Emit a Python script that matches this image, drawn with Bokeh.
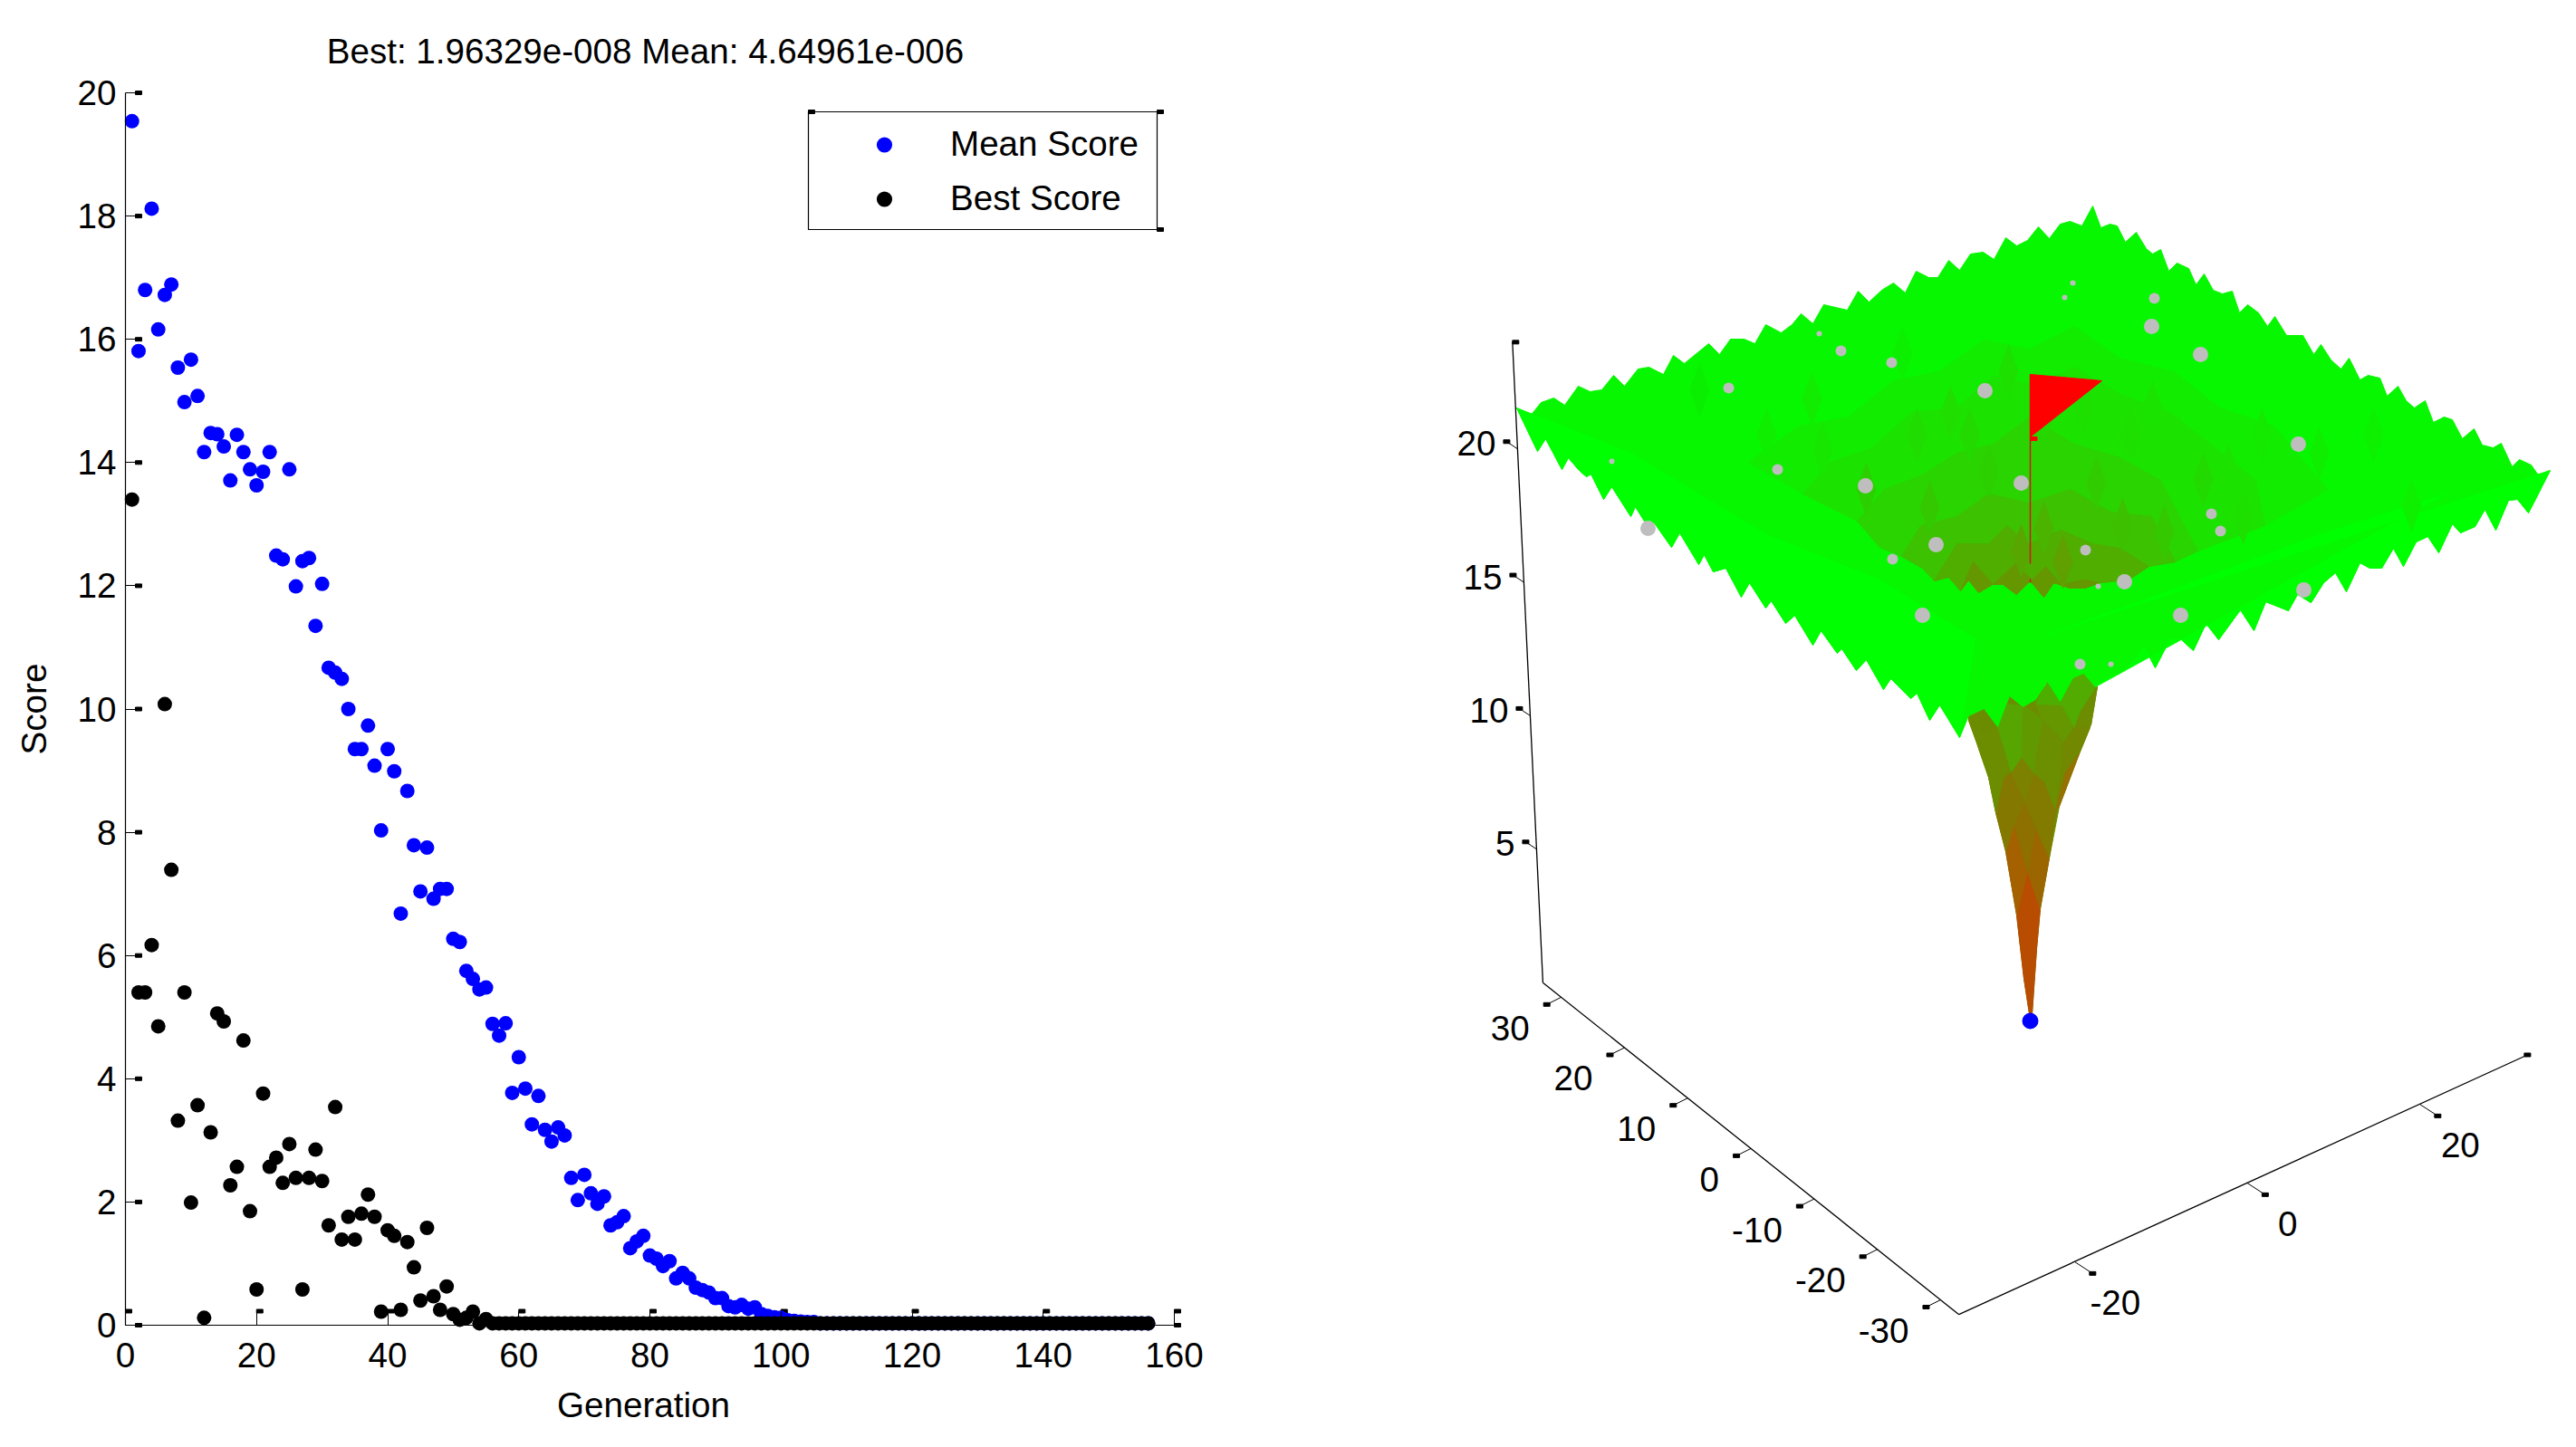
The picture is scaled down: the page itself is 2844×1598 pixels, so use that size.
from bokeh.core.properties import value
from bokeh.embed import file_html
from bokeh.layouts import row
from bokeh.models import FixedTicker, Label, Legend, LegendItem, Range1d
from bokeh.plotting import figure
from bokeh.resources import INLINE

FONT = "Liberation Sans"
FONT_SIZE = "38.6px"

# left chart values
mean_score = [
    19.54, 15.81, 16.80, 18.12, 16.16, 16.72, 16.89, 15.54, 14.98, 15.67,
    15.08, 14.17, 14.48, 14.46, 14.26, 13.71, 14.45, 14.17, 13.89, 13.63,
    13.85, 14.17, 12.49, 12.43, 13.89, 11.99, 12.40, 12.45, 11.35, 12.03,
    10.67, 10.59, 10.49, 10.00, 9.35, 9.35, 9.73, 9.08, 8.03, 9.35,
    8.99, 6.68, 8.67, 7.79, 7.04, 7.75, 6.92, 7.08, 7.08, 6.27,
    6.22, 5.75, 5.62, 5.45, 5.48, 4.89, 4.70, 4.90, 3.77, 4.35,
    3.84, 3.26, 3.72, 3.17, 2.98, 3.21, 3.08, 2.39, 2.03, 2.44,
    2.14, 1.97, 2.09, 1.62, 1.67, 1.77, 1.25, 1.36, 1.45, 1.13,
    1.08, 0.96, 1.04, 0.76, 0.85, 0.76, 0.61, 0.57, 0.53, 0.44,
    0.44, 0.31, 0.29, 0.33, 0.27, 0.29, 0.18, 0.15, 0.13, 0.12,
    0.08, 0.07, 0.06, 0.05, 0.05,
] + [0.03] * 51
best_score = [
    13.40, 5.40, 5.40, 6.17, 4.85, 10.08, 7.39, 3.32, 5.40, 1.99,
    3.57, 0.12, 3.13, 5.06, 4.93, 2.27, 2.57, 4.62, 1.85, 0.58,
    3.76, 2.57, 2.72, 2.31, 2.94, 2.39, 0.58, 2.39, 2.85, 2.34,
    1.62, 3.54, 1.39, 1.76, 1.39, 1.81, 2.12, 1.76, 0.22, 1.54,
    1.45, 0.25, 1.35, 0.94, 0.40, 1.58, 0.47, 0.25, 0.63, 0.18,
    0.09, 0.12, 0.22, 0.03, 0.10,
] + [0.03] * 101
generation = list(range(1, len(mean_score) + 1))
gen_ticks = [0, 20, 40, 60, 80, 100, 120, 140, 160]
score_ticks = [0, 2, 4, 6, 8, 10, 12, 14, 16, 18, 20]
title_text = "Best: 1.96329e-008 Mean: 4.64961e-006"

# right panel, everything in page pixels
surface_upper = [
    (1674, 450), (1688, 460), (1701, 444), (1715, 439), (1727, 447), (1742, 426), (1755, 432), (1768, 430),
    (1781, 414), (1793, 426), (1808, 407), (1820, 405), (1836, 413), (1847, 392), (1859, 401), (1886, 379),
    (1898, 391), (1910, 374), (1925, 374), (1937, 379), (1949, 358), (1966, 367), (1978, 358), (1988, 346),
    (2001, 357), (2013, 336), (2039, 342), (2051, 321), (2063, 333), (2077, 320), (2090, 312), (2103, 323),
    (2115, 299), (2129, 306), (2139, 306), (2151, 287), (2163, 298), (2175, 280), (2189, 278), (2201, 286),
    (2214, 262), (2226, 271), (2238, 265), (2250, 250), (2262, 263), (2274, 247), (2285, 244), (2298, 249),
    (2310, 227), (2319, 251), (2329, 247), (2337, 249), (2346, 267), (2358, 256), (2369, 274), (2376, 280),
    (2385, 275), (2394, 299), (2403, 290), (2416, 296), (2424, 314), (2433, 302), (2443, 320), (2453, 324),
    (2464, 321), (2472, 345), (2481, 336), (2493, 345), (2503, 360), (2511, 349), (2524, 370), (2542, 370),
    (2554, 391), (2562, 380), (2573, 397), (2584, 407), (2593, 395), (2605, 419), (2614, 414), (2627, 417),
    (2635, 437), (2647, 426), (2656, 442), (2665, 450), (2677, 442), (2686, 466), (2698, 460), (2707, 463),
    (2718, 484), (2731, 473), (2740, 491), (2752, 494), (2761, 489), (2773, 515), (2781, 507), (2794, 513),
    (2806, 530), (2815, 519),
]
surface_lower_right = [
    (2815, 519), (2791, 566), (2779, 551), (2769, 552), (2755, 585), (2743, 562), (2732, 581), (2716, 588),
    (2707, 578), (2692, 610), (2680, 592), (2667, 598), (2653, 625), (2642, 605), (2629, 627), (2616, 627),
    (2605, 621), (2590, 653), (2578, 632), (2565, 643), (2551, 665), (2536, 656), (2526, 674), (2501, 664),
    (2488, 696), (2473, 673), (2449, 706), (2435, 688), (2421, 718), (2408, 706), (2395, 706), (2379, 737),
    (2367, 714), (2356, 730), (2340, 743), (2327, 747), (2313, 758),
]
surface_lower_mid = [
    (2300, 743), (2288, 748), (2274, 774), (2260, 752), (2247, 772), (2233, 780), (2218, 768), (2205, 802),
    (2190, 782), (2173, 790),
]
surface_lower_left = [
    (2163, 814), (2141, 778), (2130, 795), (2116, 765), (2109, 771), (2087, 749), (2079, 761), (2060, 728),
    (2049, 740), (2033, 716), (2028, 721), (2010, 696), (2001, 712), (1981, 679), (1971, 688), (1955, 663),
    (1949, 671), (1931, 643), (1922, 659), (1905, 627), (1891, 631), (1881, 612), (1875, 623), (1854, 588),
    (1845, 604), (1826, 577), (1815, 575), (1805, 559), (1800, 570), (1779, 537), (1770, 551), (1756, 523),
    (1751, 526), (1743, 519), (1731, 505), (1724, 518), (1706, 484), (1697, 498), (1674, 450),
]
left_strip_inner = [(1674, 450), (1800, 500), (1950, 590), (2075, 640), (2180, 705)]
right_strip_inner = [(2260, 700), (2400, 650), (2560, 590), (2700, 545)]

rim_top = [
    (1930, 510), (1990, 545), (2050, 575), (2075, 604), (2099, 614), (2122, 627), (2135, 641), (2151, 637),
    (2164, 652), (2173, 640), (2184, 654), (2199, 645), (2211, 645), (2226, 656), (2241, 641), (2256, 659),
    (2267, 643), (2285, 649), (2301, 649), (2318, 643), (2337, 641), (2354, 637), (2372, 625), (2401, 620),
    (2426, 608), (2500, 580), (2570, 540),
]
bowl_arcs = [
    [(1930, 510), (1985, 470), (2040, 460), (2090, 420), (2140, 410), (2190, 375), (2240, 385), (2290, 360),
     (2340, 395), (2400, 410), (2450, 450), (2510, 470), (2570, 540)],
    [(1990, 545), (2020, 510), (2065, 495), (2110, 455), (2160, 450), (2200, 415), (2245, 425), (2290, 405),
     (2340, 435), (2395, 455), (2440, 490), (2490, 530), (2500, 580)],
    [(2050, 575), (2080, 540), (2120, 525), (2160, 500), (2200, 490), (2240, 460), (2290, 490), (2340, 505),
     (2385, 530), (2426, 608)],
    [(2099, 614), (2120, 580), (2160, 570), (2195, 545), (2240, 555), (2285, 540), (2330, 565), (2375, 570),
     (2401, 620)],
    [(2135, 641), (2160, 600), (2195, 600), (2215, 580), (2240, 600), (2275, 585), (2310, 600), (2340, 605),
     (2372, 625)],
    [(2164, 652), (2178, 620), (2200, 645), (2225, 622), (2243, 640), (2258, 625), (2275, 645), (2300, 640),
     (2318, 643)],
]
bowl_colors = ["#12ec00", "#1ce200", "#2ad400", "#3cc200", "#4fae00", "#659700"]

diamond_x = [1876, 2012, 2116, 2174, 2153, 2217, 2256, 2352, 2405, 2497, 2376, 2314, 2256, 2231, 2277, 2343,
             2389, 2432, 2476, 2662, 2060, 2130, 2195, 2300, 2460, 2000, 1950, 2560, 2620, 2100]
diamond_y = [430, 496, 480, 480, 455, 409, 459, 479, 488, 480, 450, 533, 583, 608, 620, 579,
             587, 529, 571, 558, 540, 560, 520, 450, 520, 440, 480, 500, 480, 390]
diamond_color = ["#0aef00", "#16e600", "#20dc00", "#22da00", "#1fde00", "#1de000", "#24d800", "#1ee000",
                 "#1ce200", "#14ea00", "#1be300", "#30cc00", "#4ab400", "#58a600", "#60a000", "#3cc000",
                 "#34c800", "#22da00", "#1ee000", "#0ef000", "#2cd000", "#34c800", "#2cd000", "#1de000",
                 "#1ce200", "#12ec00", "#10ee00", "#10ee00", "#0df000", "#0cf000"]

funnel_outline = [
    (2173, 795), (2182, 820), (2195, 858), (2203, 897), (2214, 940), (2226, 1010), (2234, 1080), (2240, 1119),
    (2243, 1119), (2248, 1047), (2252, 1003), (2262, 947), (2273, 890), (2295, 832), (2308, 800), (2315, 758),
    (2173, 758),
]
funnel_facets = [
    [(2226, 1010), (2238, 962), (2252, 1003), (2248, 1047), (2243, 1119), (2240, 1119), (2234, 1080)],
    [(2214, 940), (2223, 910), (2238, 962), (2226, 1010)],
    [(2238, 962), (2247, 913), (2262, 947), (2252, 1003)],
    [(2223, 910), (2235, 885), (2247, 913), (2238, 962)],
    [(2203, 897), (2211, 860), (2220, 852), (2235, 885), (2223, 910), (2214, 940)],
    [(2235, 885), (2244, 854), (2257, 863), (2269, 895), (2262, 947), (2247, 913)],
    [(2220, 852), (2232, 836), (2244, 854), (2235, 885)],
    [(2173, 795), (2190, 813), (2205, 802), (2218, 850), (2211, 860), (2203, 897), (2195, 858), (2182, 820)],
    [(2205, 802), (2216, 777), (2233, 779), (2233, 833), (2220, 852)],
    [(2233, 779), (2240, 783), (2255, 795), (2245, 853), (2232, 836)],
    [(2255, 795), (2278, 819), (2290, 803), (2277, 778), (2247, 777)],
    [(2255, 795), (2278, 819), (2275, 853), (2269, 895), (2257, 863), (2245, 853)],
    [(2278, 819), (2290, 803), (2307, 803), (2295, 832), (2280, 853), (2273, 890), (2269, 895), (2275, 853)],
    [(2247, 777), (2260, 752), (2274, 774), (2290, 803), (2277, 778)],
    [(2274, 774), (2288, 748), (2300, 743), (2313, 758), (2298, 783), (2290, 803)],
    [(2298, 783), (2315, 758), (2308, 800), (2290, 803)],
    [(2280, 853), (2295, 832), (2273, 890), (2269, 895)],
]
funnel_colors = ["#b84c00", "#a56000", "#9b6600", "#8d7000", "#857800", "#827b00", "#7c8100", "#6c8d00", "#56a500",
                 "#619a00", "#659700", "#6b8f00", "#718800", "#4eae00", "#51ab00", "#6e8c00", "#967000"]

population_x = [2191, 2122, 1819, 2137, 2059, 2231, 2375, 2429, 2537, 2345, 2407, 2543]
population_y = [431, 679, 583, 601, 536, 533, 360, 391, 490, 642, 679, 651]
part_x = [2088, 2032, 1962, 1908, 2089, 2378, 2451, 2302, 2296, 2441]
part_y = [400, 387, 518, 428, 617, 329, 586, 607, 733, 567]
sliver_x = [1779, 2008, 2288, 2279, 2316, 2330]
sliver_y = [509, 368, 312, 328, 647, 733]

flag_x = [2241, 2320, 2241]
flag_y = [413, 420, 482]
pole_x0 = [2241, 2241]
pole_y0 = [413, 639]
pole_y1 = [622, 643]
best_point_x = [2241]
best_point_y = [1127]

x3_ticks = [-20, 0, 20]
y3_ticks = [-30, -20, -10, 0, 10, 20, 30]
z3_ticks = [5, 10, 15, 20]

# box corners on the 3d axes
x3_min, x3_max = -33.4, 32.5
y3_min, y3_max = -32.9, 32.9
z3_top = 24.0


def project(x, y, z):
    return (2250.7 + 9.525 * x - 6.98 * y - 1.4 * z,
            1122.6 - 4.35 * x - 5.57 * y - 29.47 * z)


# left panel: the frame fills the figure so dots and labels are not clipped at the axes
AX_LEFT, AX_BOTTOM = 138, 1463
X_PX = 1158 / 160
Y_PX = 1361 / 20
PAGE_H = 1590
SPLIT = 1500

p = figure(width=SPLIT, height=PAGE_H, output_backend="svg", toolbar_location=None, min_border=0,
           x_range=Range1d(-AX_LEFT / X_PX, (SPLIT - AX_LEFT) / X_PX),
           y_range=Range1d((AX_BOTTOM - PAGE_H) / Y_PX, AX_BOTTOM / Y_PX))
p.grid.visible = False
p.outline_line_color = None

xaxis = p.xaxis[0]
yaxis = p.yaxis[0]
xaxis.fixed_location = 0
yaxis.fixed_location = 0
xaxis.bounds = (0, 160)
yaxis.bounds = (0, 20)
xaxis.ticker = FixedTicker(ticks=gen_ticks)
yaxis.ticker = FixedTicker(ticks=score_ticks)
yaxis.axis_label = "Score"
for ax in (xaxis, yaxis):
    ax.minor_tick_line_color = None
    ax.major_tick_out = 0
    ax.major_tick_line_color = "black"
    ax.axis_line_color = "black"
    ax.axis_line_width = 1.2
    ax.major_label_text_font = FONT
    ax.major_label_text_font_size = FONT_SIZE
    ax.major_label_text_color = "black"
    ax.axis_label_text_font = FONT
    ax.axis_label_text_font_size = FONT_SIZE
    ax.axis_label_text_font_style = "normal"
    ax.axis_label_text_color = "black"
xaxis.major_tick_in = 15
yaxis.major_tick_in = 12
xaxis.major_label_standoff = 19
yaxis.major_label_standoff = 10
yaxis.axis_label_standoff = 24

for text, cx, cy in [(title_text, 712, 56), ("Generation", 710, 1551)]:
    p.add_layout(Label(x=cx, y=PAGE_H - cy, x_units="screen", y_units="screen", text=text, text_align="center",
                       text_baseline="middle", text_font=FONT, text_font_size=FONT_SIZE, text_color="black"))

# the little square ends on the ticks
dx = [t + 3.5 / X_PX for t in gen_ticks]
p.rect(dx, [15.5 / Y_PX] * len(dx), width=7, height=4, width_units="screen", height_units="screen",
       color="black")
p.rect([14.5 / X_PX] * len(score_ticks), score_ticks, width=7, height=4, width_units="screen",
       height_units="screen", color="black")
p.rect([160 + 3.5 / X_PX], [0], width=7, height=4, width_units="screen", height_units="screen", color="black")

r_mean = p.scatter(generation, mean_score, size=16, color="#0000ff", line_color=None)
r_best = p.scatter(generation, best_score, size=16, color="black", line_color=None)

# legend box drawn by hand so it lands where the original one is
box_left, box_right = (892 - AX_LEFT) / X_PX, (1277 - AX_LEFT) / X_PX
box_bottom, box_top = (AX_BOTTOM - 253) / Y_PX, (AX_BOTTOM - 123) / Y_PX
p.quad(left=[box_left], right=[box_right], bottom=[box_bottom], top=[box_top], fill_color=None, line_color="black",
       line_width=1.2)
p.rect([box_left + 3.5 / X_PX, box_right + 3.5 / X_PX, box_right + 3.5 / X_PX], [box_top, box_top, box_bottom],
       width=7, height=4, width_units="screen", height_units="screen", color="black")
legend = Legend(items=[LegendItem(label="Mean Score", renderers=[r_mean]),
                       LegendItem(label="Best Score", renderers=[r_best])],
                location=(892 + 12, PAGE_H - 253 + 12), orientation="vertical",
                border_line_color=None, background_fill_alpha=0, margin=0, padding=14,
                glyph_width=144, glyph_height=43, label_height=43, label_standoff=1, spacing=16,
                label_text_font=FONT, label_text_font_size=FONT_SIZE, label_text_color="black")
p.add_layout(legend)

s = figure(width=2844 - SPLIT, height=PAGE_H, output_backend="svg", toolbar_location=None,
           x_range=Range1d(SPLIT, 2844), y_range=Range1d(PAGE_H, 0),
           x_axis_type=None, y_axis_type=None, min_border=0)
s.grid.visible = False
s.outline_line_color = None

# 3d box lines
corner = project(x3_min, y3_min, 0)
far_x = project(x3_max, y3_min, 0)
far_y = project(x3_min, y3_max, 0)
top_z = project(x3_min, y3_max, z3_top)
s.segment([corner[0], corner[0], far_y[0]], [corner[1], corner[1], far_y[1]],
          [far_x[0], far_y[0], top_z[0]], [far_x[1], far_y[1], top_z[1]], line_color="black", line_width=1.3)


def draw_ticks(points, off_x, off_y):
    s.segment([a for a, b in points], [b for a, b in points],
              [a + off_x for a, b in points], [b + off_y for a, b in points], line_color="black", line_width=1)
    s.rect([a + off_x for a, b in points], [b + off_y for a, b in points], width=7, height=4,
           width_units="screen", height_units="screen", color="black")


x_pts = [project(t, y3_min, 0) for t in x3_ticks]
y_pts = [project(x3_min, t, 0) for t in y3_ticks]
z_pts = [project(x3_min, y3_max, t) for t in z3_ticks]
draw_ticks(x_pts, 20, 13)
draw_ticks(y_pts, -16, 8)
draw_ticks(z_pts, -12, -8)
s.rect([far_x[0], top_z[0] + 3.5], [far_x[1], top_z[1]], width=7, height=4, width_units="screen",
       height_units="screen", color="black")


def draw_labels(points, labels, off_x, off_y, align):
    s.text([a + off_x for a, b in points], [b + off_y for a, b in points], text=[str(t) for t in labels],
           text_font=value(FONT), text_font_size=FONT_SIZE, text_align=align, text_baseline="middle",
           text_color="black")


draw_labels(x_pts, x3_ticks, 45, 45, "center")
draw_labels(y_pts, y3_ticks, -35, 34, "right")
draw_labels(z_pts, z3_ticks, -24, -6, "right")


def fill(points, color):
    s.patch([a for a, b in points], [b for a, b in points], fill_color=color, line_color=color, line_width=1)


fill(funnel_outline, "#6c8c00")
s.patches([[a for a, b in f] for f in funnel_facets], [[b for a, b in f] for f in funnel_facets],
          fill_color=funnel_colors, line_color=funnel_colors, line_width=1)

surface = surface_upper + surface_lower_right[1:] + surface_lower_mid + surface_lower_left[:-1]
fill(surface, "#07f700")
fill(surface_lower_left + left_strip_inner[1:], "#00ff00")
fill(surface_lower_right + right_strip_inner[::-1], "#00ff00")

for arc, color in zip(bowl_arcs, bowl_colors):
    rim = [pt for pt in rim_top if arc[0][0] < pt[0] < arc[-1][0]]
    fill(arc + rim[::-1], color)
s.patches([[x - 11, x, x + 11, x] for x in diamond_x], [[y, y - 30, y, y + 30] for y in diamond_y],
          fill_color=diamond_color, line_color=None)

s.scatter(population_x, population_y, size=17, color="#bebebe", line_color=None)
s.scatter(part_x, part_y, size=12, color="#bebebe", line_color=None)
s.scatter(sliver_x, sliver_y, size=6, color="#bebebe", line_color=None)

s.segment(pole_x0, pole_y0, pole_x0, pole_y1, line_color="#d01818", line_width=1.5)
s.patch(flag_x, flag_y, fill_color="#ff0000", line_color="#ff0000")
s.rect([flag_x[0] + 4], [flag_y[2] + 2], width=7, height=4, width_units="screen", height_units="screen",
       color="#ff0000")
s.scatter(best_point_x, best_point_y, size=18, color="#0000ff", line_color=None)

page = row(p, s)
open("out.html", "w").write(file_html(page, INLINE))
